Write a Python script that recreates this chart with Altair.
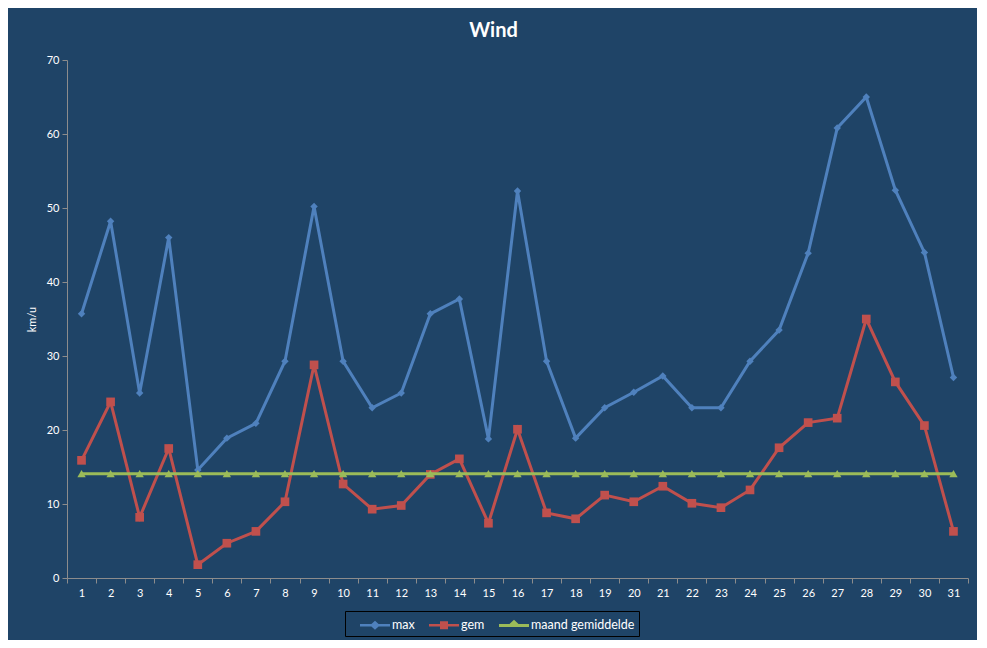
import altair as alt
import pandas as pd

days = list(range(1, 32))
max_vals = [35.7, 48.2, 25.0, 46.0, 14.6, 18.9, 20.9, 29.3, 50.2, 29.3, 23.0, 25.0, 35.7, 37.7, 18.8, 52.3,
            29.3, 18.9, 23.0, 25.1, 27.3, 23.0, 23.0, 29.3, 33.5, 43.9, 60.8, 65.0, 52.4, 44.0, 27.1]
gem_vals = [15.9, 23.8, 8.2, 17.5, 1.8, 4.7, 6.3, 10.3, 28.8, 12.7, 9.3, 9.8, 14.0, 16.1, 7.4, 20.1,
            8.8, 8.0, 11.2, 10.3, 12.4, 10.1, 9.5, 11.9, 17.6, 21.0, 21.6, 35.0, 26.5, 20.6, 6.3]
avg_vals = [14.1, 14.1, 14.1, 14.1, 14.1, 14.1, 14.1, 14.1, 14.1, 14.1, 14.1, 14.1, 14.1, 14.1, 14.1, 14.1,
            14.1, 14.1, 14.1, 14.1, 14.1, 14.1, 14.1, 14.1, 14.1, 14.1, 14.1, 14.1, 14.1, 14.1, 14.1]

series_names = ["max", "gem", "maand gemiddelde"]
series_colors = ["#4F81BD", "#C0504D", "#9BBB59"]
marker_shapes = ["diamond", "square", "triangle-up"]
marker_sizes = [55, 75, 70]
legend_paths = [
    "M-1.5,-0.12H-0.36L0,-0.45L0.36,-0.12H1.5V0.12H0.36L0,0.45L-0.36,0.12H-1.5Z",
    "M-1.5,-0.12H-0.4V-0.4H0.4V-0.12H1.5V0.12H0.4V0.4H-0.4V0.12H-1.5Z",
    "M-1.5,-0.12H-0.45L0,-0.54L0.45,-0.12H1.5V0.18H-1.5Z",
]

BG = "#1F4467"
FONT = "Lato"

rows = []
for name, vals in zip(series_names, [max_vals, gem_vals, avg_vals]):
    for d, v in zip(days, vals):
        rows.append({"dag": d, "waarde": v, "reeks": name})
df = pd.DataFrame(rows)

x_enc = alt.X(
    "dag:O",
    bandPosition=0.5,
    scale=alt.Scale(type="band", paddingInner=0, paddingOuter=0),
    axis=alt.Axis(title=None, labelAngle=0, tickBand="extent", tickSize=5, labelPadding=4),
)
y_enc = alt.Y(
    "waarde:Q",
    scale=alt.Scale(domain=[0, 70], nice=False),
    axis=alt.Axis(title="km/u", values=[0, 10, 20, 30, 40, 50, 60, 70], tickSize=5,
                  labelPadding=3, titlePadding=9),
)

base = alt.Chart(df)
layers = []
for name, col, shp, sz in zip(series_names, series_colors, marker_shapes, marker_sizes):
    sub = base.transform_filter(alt.datum.reeks == name)
    layers.append(sub.mark_line(color=col, strokeWidth=3).encode(x=x_enc, y=y_enc))
    layers.append(sub.mark_point(shape=shp, filled=True, size=sz, color=col, opacity=1).encode(x=x_enc, y=y_enc))

leg = alt.Legend(
    orient="none", legendX=278, legendY=551, direction="horizontal", title=None,
    strokeColor="black", fillColor=BG, padding=4, symbolSize=400, symbolStrokeWidth=0,
    symbolOffset=16, symbolOpacity=1, labelColor="white", labelFontSize=12.5, labelFont=FONT,
    labelOffset=7, columnPadding=3,
)
legend_layer = base.mark_point(filled=True, opacity=0).encode(
    x=x_enc, y=y_enc,
    color=alt.Color("reeks:N", scale=alt.Scale(domain=series_names, range=series_colors), legend=leg),
    shape=alt.Shape("reeks:N", scale=alt.Scale(domain=series_names, range=legend_paths), legend=leg),
)
layers.append(legend_layer)

chart = alt.layer(*layers).properties(
    width=901,
    height=518,
    title=alt.Title("Wind", fontSize=20, fontWeight="bold", color="white", font=FONT,
                    anchor="middle", offset=13, dx=-24),
    autosize=alt.AutoSizeParams(type="none"),
    padding={"left": 59, "top": 52, "right": 9, "bottom": 62},
    background=BG,
).configure_view(stroke=None).configure_axis(
    domainColor="#8C8C8C", tickColor="#8C8C8C", labelColor="white", titleColor="white",
    labelFont=FONT, titleFont=FONT, labelFontSize=11, titleFontSize=11, titleFontWeight="normal",
    grid=False,
)

chart.save("out.html", embed_options={"renderer": "svg", "actions": False})
